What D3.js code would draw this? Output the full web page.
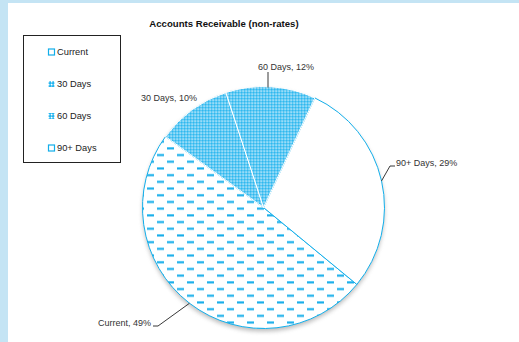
<!DOCTYPE html>
<html><head><meta charset="utf-8">
<script src="https://cdn.jsdelivr.net/npm/d3@7"></script>
<style>body{margin:0;padding:0;background:#fff;overflow:hidden}svg{display:block}</style>
</head><body>
<script>
// ---- data ----
const categories = ["Current", "30 Days", "60 Days", "90+ Days"];
const values = [49, 10, 12, 29];
const legendOrder = ["Current", "30 Days", "60 Days", "90+ Days"];
const title = "Accounts Receivable (non-rates)";

// ---- layout ----
const W = 519, H = 342;
const cx = 263.5, cy = 207.5, R = 121;
const blue = "#12aeea";
const font = "'Liberation Sans', Arial, sans-serif";

const svg = d3.select("body").append("svg").attr("width", W).attr("height", H);
const defs = svg.append("defs");

// dashed horizontal pattern
const pd = defs.append("pattern").attr("id", "dash").attr("patternUnits", "userSpaceOnUse")
  .attr("width", 20).attr("height", 13.4).attr("x", cx).attr("y", cy);
pd.append("rect").attr("width", 20).attr("height", 13.4).attr("fill", "#fff");
[[0, 0], [10, 6.7]].forEach(([x, y]) => {
  pd.append("rect").attr("x", x).attr("y", y).attr("width", 7).attr("height", 1).attr("fill", "#5ccaf4");
  pd.append("rect").attr("x", x).attr("y", y + 1).attr("width", 7).attr("height", 1.4).attr("fill", "#0ea9e8");
});
// fine dotted grid pattern
const pc = defs.append("pattern").attr("id", "check").attr("patternUnits", "userSpaceOnUse")
  .attr("width", 3).attr("height", 3);
pc.append("rect").attr("width", 3).attr("height", 3).attr("fill", "#26b5ee");
pc.append("rect").attr("x", 0).attr("y", 0).attr("width", 1.4).attr("height", 1.4).attr("fill", "#fff");
pc.append("rect").attr("x", 1.5).attr("y", 0).attr("width", 1).attr("height", 1).attr("fill", "#9fdef9");
pc.append("rect").attr("x", 0).attr("y", 1.5).attr("width", 1).attr("height", 1).attr("fill", "#9fdef9");

const shadow = defs.append("filter").attr("id", "sh").attr("x", "-20%").attr("y", "-20%").attr("width", "140%").attr("height", "140%");
shadow.append("feGaussianBlur").attr("stdDeviation", 2);

const fills = { "Current": "url(#dash)", "30 Days": "url(#check)", "60 Days": "url(#check)", "90+ Days": "#fff" };
const strokes = { "Current": blue, "30 Days": "#fff", "60 Days": "#fff", "90+ Days": blue };

// background frame
svg.append("rect").attr("width", W).attr("height", H).attr("fill", "#c4e4f4");
svg.append("rect").attr("x", 8).attr("y", 3).attr("width", W - 8).attr("height", H - 3).attr("fill", "#fff");

// title
svg.append("text").attr("x", 224).attr("y", 27).attr("text-anchor", "middle")
  .attr("font-family", font).attr("font-size", 9.6).attr("font-weight", "bold").attr("fill", "#111").text(title);

// pie
const data = categories.map((c, i) => ({ cat: c, v: values[i] }));
const deg = Math.PI / 180;
const pie = d3.pie().sort(null).value(d => d.v).startAngle(129.5 * deg).endAngle(489.5 * deg);
const arcs = pie(data);
const arc = d3.arc().innerRadius(0).outerRadius(R);
const g = svg.append("g").attr("transform", `translate(${cx},${cy})`);

g.append("circle").attr("cx", 0).attr("cy", 3).attr("r", R).attr("fill", "#888").attr("opacity", 0.55).attr("filter", "url(#sh)");
g.append("circle").attr("r", R).attr("fill", "#fff");

const drawOrder = ["Current", "90+ Days", "30 Days", "60 Days"];
drawOrder.forEach(c => {
  const a = arcs.find(d => d.data.cat === c);
  g.append("path").attr("d", arc(a)).attr("fill", fills[c]).attr("stroke", strokes[c]).attr("stroke-width", 1);
});

// labels
const labelLayout = {
  "Current": { tx: 151, ty: 326, anchor: "end", elbow: [[158, 326], [153, 326]] },
  "30 Days": { tx: 197, ty: 101, anchor: "end", elbow: null },
  "60 Days": { tx: 286, ty: 70, anchor: "middle", elbow: [[268, 72]] },
  "90+ Days": { tx: 396, ty: 166, anchor: "start", elbow: [[390, 166], [395, 166]] }
};
arcs.forEach(a => {
  const L = labelLayout[a.data.cat];
  const mid = (a.startAngle + a.endAngle) / 2;
  const p0 = [cx + Math.sin(mid) * R, cy - Math.cos(mid) * R];
  if (L.elbow) {
    let pts = [p0].concat(L.elbow);
    if (a.data.cat === "60 Days") pts = [[268, cy - R + 1], [268, 72]];
    svg.append("path").attr("d", d3.line()(pts)).attr("fill", "none").attr("stroke", "#222").attr("stroke-width", 0.9);
  }
  svg.append("text").attr("x", L.tx).attr("y", L.ty).attr("text-anchor", L.anchor)
    .attr("font-family", font).attr("font-size", 9).attr("fill", "#333")
    .text(`${a.data.cat}, ${a.data.v}%`);
});

// legend
svg.append("rect").attr("x", 23.5).attr("y", 35.5).attr("width", 97).attr("height", 127)
  .attr("fill", "#fff").attr("stroke", "#222").attr("stroke-width", 1);
const ly = d3.scalePoint().domain(legendOrder).range([52, 148]);
legendOrder.forEach(c => {
  const y = ly(c);
  if (c === "30 Days" || c === "60 Days") {
    svg.append("rect").attr("x", 48.5).attr("y", y - 3).attr("width", 6).attr("height", 6).attr("fill", "url(#check)");
  } else {
    svg.append("rect").attr("x", 48.5).attr("y", y - 3).attr("width", 6).attr("height", 6)
      .attr("fill", "#fff").attr("stroke", blue).attr("stroke-width", 1.2);
  }
  svg.append("text").attr("x", 57).attr("y", y + 3.3).attr("font-family", font).attr("font-size", 9.3)
    .attr("fill", "#222").text(c);
});
</script>
</body></html>
